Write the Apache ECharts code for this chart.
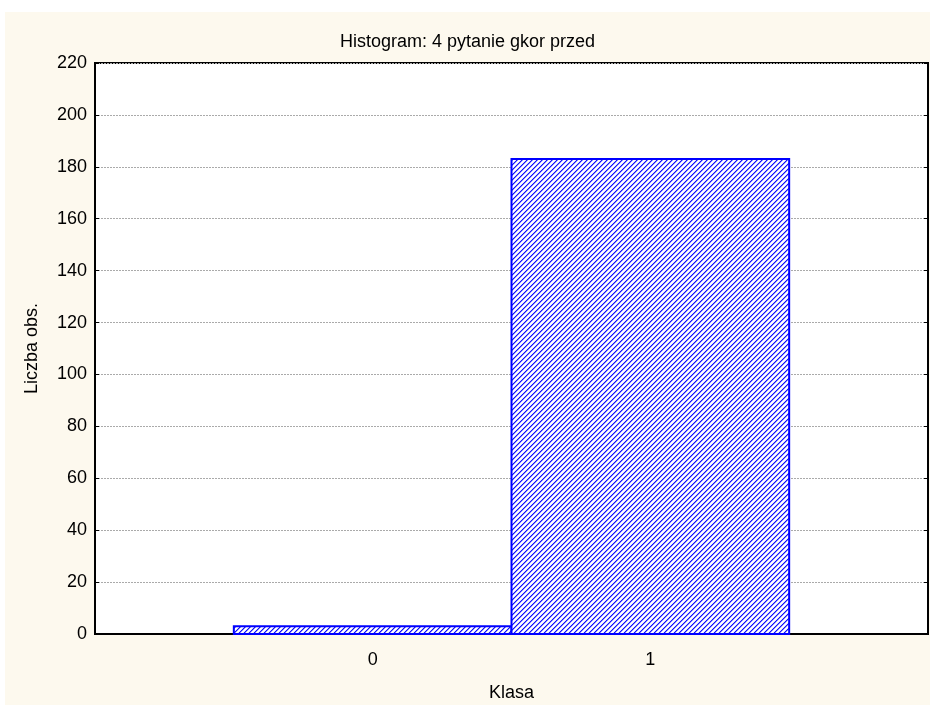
<!DOCTYPE html>
<html>
<head>
<meta charset="utf-8">
<script src="https://cdn.jsdelivr.net/npm/echarts@6/dist/echarts.min.js"></script>
<style>
html, body { margin: 0; padding: 0; background: #ffffff; }
#container { position: absolute; left: 5px; top: 12px; width: 925px; height: 693px; background: #fdf9ee; }
</style>
</head>
<body>
<div id="container"></div>
<script>
// dane histogramu
var classes = [0, 1];
var counts = [3, 183];
var binWidth = 1;
var xTickLabels = ['0', '1'];
var yTicks = [0, 20, 40, 60, 80, 100, 120, 140, 160, 180, 200, 220];

var container = document.getElementById('container');
var charts = echarts.init(container);

/*
 * wzor kreskowania slupkow
 */
function makeHatch() {
    var n = 5;
    var c = document.createElement('canvas');
    c.width = n;
    c.height = n;
    var ctx = c.getContext('2d');
    ctx.fillStyle = '#ffffff';
    ctx.fillRect(0, 0, n, n);
    for (var y = 0; y < n; y++) {
        ctx.fillStyle = '#1010ff';
        ctx.fillRect((n - 1 - y + n) % n, y, 1, 1);
        ctx.fillStyle = '#8a8aff';
        ctx.fillRect((n - y) % n, y, 1, 1);
        ctx.fillStyle = '#dcdcff';
        ctx.fillRect((n - 2 - y + n) % n, y, 1, 1);
    }
    return c;
}
var hatch = makeHatch();

var barData = classes.map(function (c, i) { return [c, counts[i]]; });

function renderBar(params, api) {
    var x = api.value(0);
    var v = api.value(1);
    var p0 = api.coord([x - binWidth / 2, 0]);
    var p1 = api.coord([x + binWidth / 2, v]);
    return {
        type: 'rect',
        shape: { x: p0[0], y: p1[1], width: p1[0] - p0[0], height: p0[1] - p1[1] },
        style: {
            fill: { image: hatch, repeat: 'repeat' },
            stroke: '#0000ff',
            lineWidth: 2
        }
    };
}

var font = 'Liberation Sans, Arial, sans-serif';

var option = {
    animation: false,
    textStyle: { fontFamily: font },
    title: {
        text: 'Histogram: 4 pytanie gkor przed',
        left: 'center',
        top: 16,
        textStyle: { fontSize: 18, fontWeight: 'normal', color: '#000', fontFamily: font }
    },
    grid: {
        left: 90, right: 2, top: 51, bottom: 71,
        outerBoundsMode: 'none',
        containLabel: false,
        show: true, backgroundColor: '#ffffff', borderColor: '#000', borderWidth: 2
    },
    xAxis: {
        type: 'value',
        min: -1, max: 2, interval: 1,
        name: 'Klasa',
        nameLocation: 'middle',
        nameGap: 50,
        nameTextStyle: { fontSize: 18, color: '#000', fontFamily: font },
        axisLine: { show: true, onZero: false, lineStyle: { color: '#000', width: 2 } },
        axisTick: { show: true, inside: true, length: 3, lineStyle: { color: '#000' } },
        axisLabel: {
            fontSize: 18, color: '#000', margin: 17, fontFamily: font,
            formatter: function (v) {
                var i = classes.indexOf(v);
                return i >= 0 ? xTickLabels[i] : '';
            }
        },
        splitLine: { show: false }
    },
    yAxis: [{
        type: 'value',
        min: yTicks[0], max: yTicks[yTicks.length - 1], interval: 20,
        name: 'Liczba obs.',
        nameLocation: 'middle',
        nameGap: 54,
        nameTextStyle: { fontSize: 18, color: '#000', fontFamily: font },
        axisLine: { show: true, onZero: false, lineStyle: { color: '#000', width: 2 } },
        axisTick: { show: true, inside: true, length: 4, lineStyle: { color: '#000' } },
        axisLabel: { fontSize: 18, color: '#000', margin: 8, fontFamily: font },
        splitLine: { show: true, lineStyle: { color: '#aaaaaa', type: [2, 1], width: 1 } }
    }, {
        type: 'value',
        position: 'right',
        min: yTicks[0], max: yTicks[yTicks.length - 1], interval: 20,
        axisLine: { show: true, onZero: false, lineStyle: { color: '#000', width: 2 } },
        axisTick: { show: true, inside: true, length: 4, lineStyle: { color: '#000' } },
        axisLabel: { show: false },
        splitLine: { show: false }
    }],
    series: [{
        type: 'custom',
        renderItem: renderBar,
        encode: { x: 0, y: 1 },
        data: barData,
        z: 5
    }]
};

charts.setOption(option, true);
</script>
</body>
</html>
